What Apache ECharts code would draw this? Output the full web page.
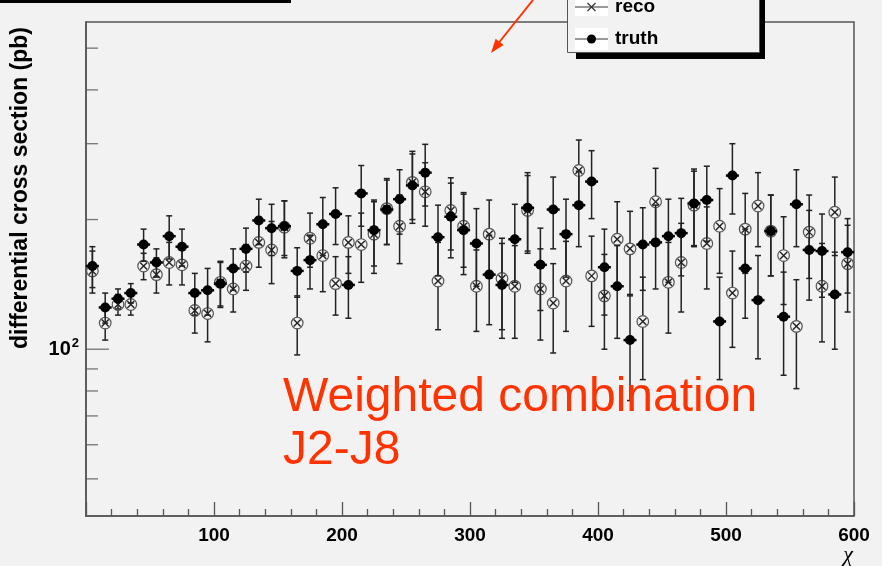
<!DOCTYPE html>
<html>
<head>
<meta charset="utf-8">
<style>
  body { margin: 0; background: #f2f2f2; }
  .chart { width: 882px; height: 566px; }
</style>
</head>
<body>
<div class="chart"></div>
<script src="https://cdn.jsdelivr.net/npm/echarts@6/dist/echarts.min.js"></script>
<script>
// 数据: 每个 bin 的中心 (chi), 宽度 10
var chi = [5, 15, 25, 35, 45, 55, 65, 75, 85, 95,
  105, 115, 125, 135, 145, 155, 165, 175, 185, 195,
  205, 215, 225, 235, 245, 255, 265, 275, 285, 295,
  305, 315, 325, 335, 345, 355, 365, 375, 385, 395,
  405, 415, 425, 435, 445, 455, 465, 475, 485, 495,
  505, 515, 525, 535, 545, 555, 565, 575, 585, 595];
// truth (实心圆点)
var truth = [156, 125, 131, 135, 175, 159, 183, 173, 135, 137,
  142, 154, 171, 199, 191, 193, 152, 161, 195, 206,
  141, 230, 189, 211, 223, 240, 257, 182, 203, 189,
  176, 149, 141, 180, 213, 157, 211, 185, 216, 245,
  155, 140, 105, 175, 177, 183, 186, 218, 222, 116,
  253, 154, 130, 188, 119, 217, 170, 169, 134, 168];
var truthErr = [17, 10, 7, 7, 15, 12, 21, 17, 15, 17,
  17, 17, 20, 24, 26, 28, 20, 23, 30, 31,
  23, 37, 33, 36, 38, 44, 42, 34, 40, 40,
  36, 35, 35, 37, 44, 34, 40, 38, 43, 44,
  35, 34, 29, 38, 39, 40, 38, 44, 44, 31,
  47, 36, 35, 40, 32, 44, 40, 37, 34, 33];
// reco (圆圈加叉)
var reco = [152, 115, 127, 127, 156, 149, 159, 157, 123, 121,
  143, 138, 156, 177, 170, 192, 115, 181, 165, 142,
  177, 175, 185, 212, 193, 244, 232, 144, 210, 193,
  140, 185, 146, 140, 210, 138, 128, 144, 260, 148,
  133, 180, 171, 116, 220, 143, 159, 216, 176, 193,
  135, 190, 215, 188, 165, 113, 187, 140, 208, 158];
var recoErr = [17, 10, 7, 7, 11, 14, 18, 16, 14, 17,
  17, 16, 19, 22, 28, 29, 18, 26, 29, 22,
  27, 32, 35, 37, 35, 44, 39, 33, 40, 38,
  30, 37, 35, 34, 43, 33, 30, 34, 46, 35,
  33, 40, 38, 31, 43, 34, 37, 43, 38, 43,
  34, 40, 42, 40, 38, 32, 41, 36, 43, 36];
// y 轴刻度 (对数轴)
var yMinorTicks = [50, 60, 70, 80, 90, 200, 300, 400, 500];
var yMajorTicks = [100];

var font = "'Liberation Sans', Arial, sans-serif";
var red = "#ff3300";

(function () {
  // 1. 实例化对象
  var myChart = echarts.init(document.querySelector(".chart"));

  // 值 + 误差 -> [x, y, 下限, 上限]
  function withErrors(vals, errs) {
    return chi.map(function (x, i) {
      return [x, vals[i], vals[i] - errs[i], vals[i] + errs[i]];
    });
  }

  // 误差棒 (竖线 + 上下短横)
  function errorBar(api) {
    var x = api.value(0);
    var lo = api.coord([x, api.value(2)]);
    var hi = api.coord([x, api.value(3)]);
    var st = { stroke: "#222", lineWidth: 1.5 };
    return [
      { type: "line", shape: { x1: hi[0], y1: hi[1], x2: lo[0], y2: lo[1] }, style: st },
      { type: "line", shape: { x1: hi[0] - 3, y1: hi[1], x2: hi[0] + 3, y2: hi[1] }, style: st },
      { type: "line", shape: { x1: lo[0] - 3, y1: lo[1], x2: lo[0] + 3, y2: lo[1] }, style: st }
    ];
  }

  function renderReco(params, api) {
    var c = api.coord([api.value(0), api.value(1)]);
    var children = errorBar(api);
    var st = { stroke: "#222", lineWidth: 1.4 };
    children.push({ type: "circle", shape: { cx: c[0], cy: c[1], r: 5.8 }, style: { fill: "#f2f2f2", stroke: "#555", lineWidth: 1.2 } });
    children.push({ type: "line", shape: { x1: c[0] - 3.5, y1: c[1] - 3.5, x2: c[0] + 3.5, y2: c[1] + 3.5 }, style: st });
    children.push({ type: "line", shape: { x1: c[0] - 3.5, y1: c[1] + 3.5, x2: c[0] + 3.5, y2: c[1] - 3.5 }, style: st });
    return { type: "group", children: children };
  }

  function renderTruth(params, api) {
    var c = api.coord([api.value(0), api.value(1)]);
    var children = errorBar(api);
    children.push({ type: "line", shape: { x1: c[0] - 6.5, y1: c[1], x2: c[0] + 6.5, y2: c[1] }, style: { stroke: "#000", lineWidth: 2.5 } });
    children.push({ type: "circle", shape: { cx: c[0], cy: c[1], r: 5 }, style: { fill: "#000" } });
    return { type: "group", children: children };
  }

  // 2. 指定配置项和数据
  var option = {
    backgroundColor: "#f2f2f2",
    animation: false,
    grid: {
      left: 86,
      right: 28,
      top: 22,
      bottom: 50,
      show: true,
      borderColor: "#555",
      borderWidth: 1.5,
      outerBoundsMode: "none"
    },
    xAxis: {
      type: "value",
      min: 0,
      max: 600,
      interval: 100,
      axisLine: { lineStyle: { color: "#555", width: 1.5 } },
      axisTick: { inside: true, length: 14, lineStyle: { color: "#555", width: 1.3 } },
      minorTick: { show: true, splitNumber: 5, length: 7, lineStyle: { color: "#555", width: 1.3 } },
      splitLine: { show: false },
      axisLabel: {
        margin: 10,
        color: "#000",
        fontFamily: font,
        fontWeight: "bold",
        fontSize: 19,
        formatter: function (v) {
          return v === 0 ? "" : v;
        }
      }
    },
    yAxis: {
      type: "log",
      logBase: 10,
      min: 41,
      max: 575,
      axisLine: { lineStyle: { color: "#555", width: 1.5 } },
      axisTick: { show: false },
      splitLine: { show: false },
      axisLabel: {
        margin: 7,
        color: "#000",
        formatter: function (v) {
          return Math.abs(v - 100) < 1 ? "{b|10}{s|2}" : "";
        },
        rich: {
          b: { fontFamily: font, fontWeight: "bold", fontSize: 20, color: "#000" },
          s: { fontFamily: font, fontWeight: "bold", fontSize: 13, color: "#000", verticalAlign: "bottom", padding: [0, 0, 11, 1] }
        }
      }
    },
    series: [
      {
        // y 轴小刻度
        type: "scatter",
        silent: true,
        symbol: "rect",
        symbolSize: [12, 1.3],
        symbolOffset: [6, 0],
        itemStyle: { color: "#555" },
        data: yMinorTicks.map(function (v) { return [0, v]; })
      },
      {
        // y 轴大刻度
        type: "scatter",
        silent: true,
        symbol: "rect",
        symbolSize: [23, 1.3],
        symbolOffset: [11.5, 0],
        itemStyle: { color: "#555" },
        data: yMajorTicks.map(function (v) { return [0, v]; })
      },
      {
        name: "reco",
        type: "custom",
        renderItem: renderReco,
        encode: { x: 0, y: [1, 2, 3] },
        data: withErrors(reco, recoErr)
      },
      {
        name: "truth",
        type: "custom",
        renderItem: renderTruth,
        encode: { x: 0, y: [1, 2, 3] },
        data: withErrors(truth, truthErr)
      }
    ],
    graphic: [
      // 左上角残留的标题框
      { type: "rect", z: 100, shape: { x: 0, y: 0, width: 291, height: 3 }, style: { fill: "#000" } },
      // 图例 (上边被截掉)
      { type: "rect", z: 100, shape: { x: 576, y: -5, width: 189, height: 64 }, style: { fill: "#000" } },
      { type: "rect", z: 101, shape: { x: 567.5, y: -10, width: 192, height: 62.5 }, style: { fill: "#f2f2f2", stroke: "#555", lineWidth: 1 } },
      { type: "rect", z: 102, shape: { x: 575, y: 0, width: 33, height: 16 }, style: { fill: "#fff" } },
      { type: "rect", z: 102, shape: { x: 575, y: 28, width: 33, height: 22 }, style: { fill: "#fff" } },
      { type: "line", z: 103, shape: { x1: 575, y1: 7, x2: 608, y2: 7 }, style: { stroke: "#333", lineWidth: 1 } },
      { type: "line", z: 103, shape: { x1: 587.5, y1: 3, x2: 595.5, y2: 11 }, style: { stroke: "#333", lineWidth: 1.3 } },
      { type: "line", z: 103, shape: { x1: 587.5, y1: 11, x2: 595.5, y2: 3 }, style: { stroke: "#333", lineWidth: 1.3 } },
      { type: "line", z: 103, shape: { x1: 575, y1: 39, x2: 608, y2: 39 }, style: { stroke: "#333", lineWidth: 1 } },
      { type: "circle", z: 103, shape: { cx: 591.5, cy: 39, r: 4.5 }, style: { fill: "#000" } },
      { type: "text", z: 103, x: 615, y: 7, style: { text: "reco", font: "bold 19px " + font, fill: "#000", verticalAlign: "middle" } },
      { type: "text", z: 103, x: 615, y: 39, style: { text: "truth", font: "bold 19px " + font, fill: "#000", verticalAlign: "middle" } },
      // 红色箭头
      { type: "line", z: 104, shape: { x1: 533, y1: 0, x2: 497, y2: 45 }, style: { stroke: red, lineWidth: 2 } },
      { type: "polygon", z: 104, shape: { points: [[491, 53], [503.6, 45], [495.6, 38.8]] }, style: { fill: red } },
      // y 轴标题
      {
        type: "text", z: 100, x: 21, y: 27, rotation: Math.PI / 2,
        style: { text: "differential cross section (pb)", font: "bold 23px " + font, fill: "#000", align: "right", verticalAlign: "middle" }
      },
      // x 轴标题
      { type: "text", z: 100, x: 848, y: 555, style: { text: "χ", font: "italic 22px 'Liberation Serif', serif", fill: "#000", align: "center", verticalAlign: "middle" } },
      // 红色说明文字
      { type: "text", z: 100, x: 283, y: 398, style: { text: "Weighted combination", font: "48px " + font, fill: red, verticalAlign: "middle" } },
      { type: "text", z: 100, x: 283, y: 451, style: { text: "J2-J8", font: "48px " + font, fill: red, verticalAlign: "middle" } }
    ]
  };

  // 3. 配置项和数据给实例对象
  myChart.setOption(option);
  window.addEventListener("resize", function () {
    myChart.resize();
  });
})();
</script>
</body>
</html>
